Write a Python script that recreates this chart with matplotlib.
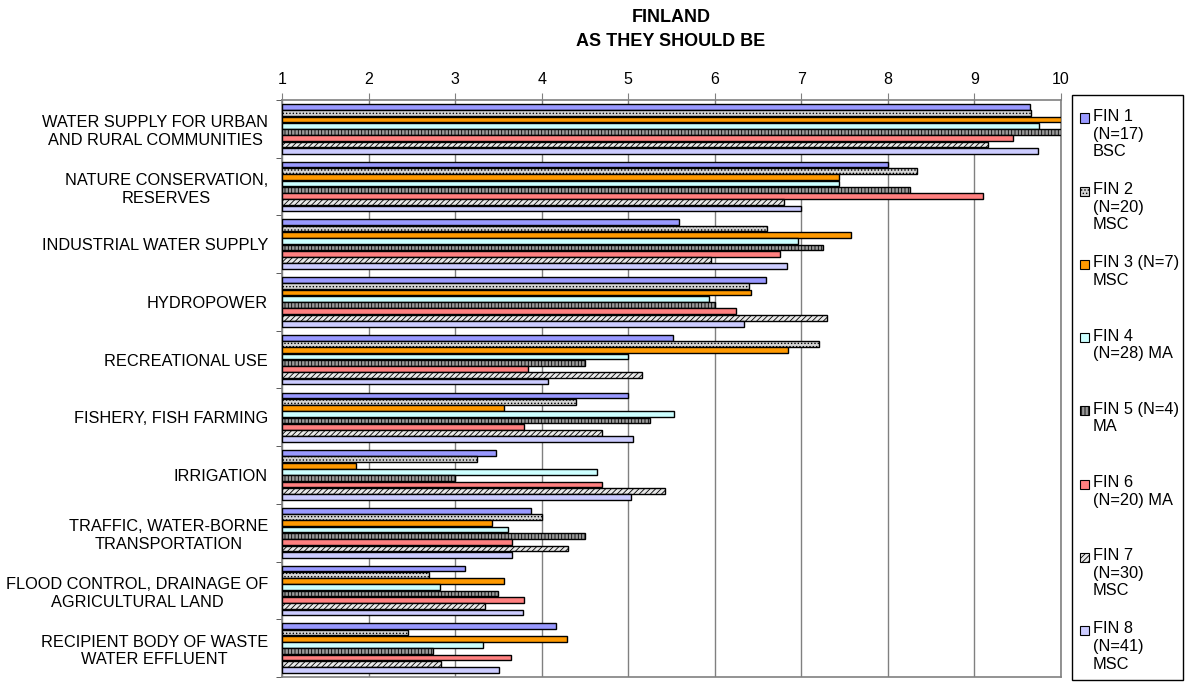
import matplotlib.pyplot as plt
import matplotlib.patches as mpatches
import numpy as np

plt.rcParams['font.family'] = ['Liberation Sans', 'DejaVu Sans']

categories = [
    'WATER SUPPLY FOR URBAN\nAND RURAL COMMUNITIES',
    'NATURE CONSERVATION,\nRESERVES',
    'INDUSTRIAL WATER SUPPLY',
    'HYDROPOWER',
    'RECREATIONAL USE',
    'FISHERY, FISH FARMING',
    'IRRIGATION',
    'TRAFFIC, WATER-BORNE\nTRANSPORTATION',
    'FLOOD CONTROL, DRAINAGE OF\nAGRICULTURAL LAND',
    'RECIPIENT BODY OF WASTE\nWATER EFFLUENT',
]

series_labels = [
    'FIN 1\n(N=17)\nBSC',
    'FIN 2\n(N=20)\nMSC',
    'FIN 3 (N=7)\nMSC',
    'FIN 4\n(N=28) MA',
    'FIN 5 (N=4)\nMA',
    'FIN 6\n(N=20) MA',
    'FIN 7\n(N=30)\nMSC',
    'FIN 8\n(N=41)\nMSC',
]

fin1 = [9.64, 8.00, 5.59, 6.59, 5.52, 5.00, 3.47, 3.88, 3.12, 4.17]
fin2 = [9.65, 8.34, 6.60, 6.39, 7.20, 4.40, 3.25, 4.00, 2.70, 2.45]
fin3 = [10.0, 7.43, 7.57, 6.42, 6.85, 3.57, 1.86, 3.43, 3.57, 4.29]
fin4 = [9.75, 7.43, 6.96, 5.93, 5.00, 5.53, 4.64, 3.61, 2.83, 3.32]
fin5 = [10.0, 8.25, 7.25, 6.00, 4.50, 5.25, 3.00, 4.50, 3.50, 2.75]
fin6 = [9.45, 9.10, 6.75, 6.25, 3.84, 3.80, 4.70, 3.66, 3.80, 3.65]
fin7 = [9.16, 6.80, 5.96, 7.30, 5.16, 4.70, 5.43, 4.30, 3.34, 2.84]
fin8 = [9.73, 7.00, 6.83, 6.34, 4.07, 5.05, 5.03, 3.66, 3.78, 3.51]

series = [fin1, fin2, fin3, fin4, fin5, fin6, fin7, fin8]

# fill colours and hatches for the 8 series
faces = ['#9999ff', '#d4d4d4', '#ff9900', '#ccffff', '#9a9a9a', '#ff8080', '#e8e8e8', '#ccccff']
hatches = [None, '.....', None, None, '|||||', None, '//////', None]

plt.rcParams['hatch.linewidth'] = 0.6
plt.rcParams['hatch.color'] = '#555555'

fig = plt.figure(figsize=(11.9, 6.84), dpi=100)
ax = fig.add_axes([282 / 1190, 1 - 677 / 684, (1061 - 282) / 1190, (677 - 100) / 684])

n = len(series)
group = 0.87
slot = group / n
y = np.arange(len(categories))
for i, vals in enumerate(series):
    pos = y - group / 2 + slot * (i + 0.5)
    ax.barh(pos, np.array(vals) - 1, left=1, height=slot * 0.92,
            color=faces[i], edgecolor='black', linewidth=1.0,
            hatch=hatches[i], zorder=3)

ax.set_xlim(1, 10)
ax.set_ylim(len(categories) - 0.5, -0.5)
ax.set_xticks(range(1, 11))
ax.xaxis.tick_top()
ax.tick_params(axis='x', direction='out', length=5, color='#808080',
               labelsize=11.5, pad=4)
ax.grid(axis='x', color='#808080', linewidth=1.0, zorder=0)

ax.set_yticks(y)
ax.set_yticklabels(categories, fontsize=11.8, multialignment='center', linespacing=1.22)
ax.tick_params(axis='y', length=0, pad=10)
ax.set_yticks(np.arange(-0.5, len(categories)), minor=True)
ax.tick_params(axis='y', which='minor', length=4, color='#404040')

for s in ax.spines.values():
    s.set_color('#808080')
    s.set_linewidth(1.2)

fig.text(671 / 1190, 1 - 17 / 684, 'FINLAND', ha='center', va='center',
         fontsize=13, fontweight='bold')
fig.text(671 / 1190, 1 - 41 / 684, 'AS THEY SHOULD BE', ha='center', va='center',
         fontsize=13, fontweight='bold')

# legend box drawn by hand so entries sit evenly like the original
fig.patches.append(mpatches.Rectangle((1072 / 1190, 1 - 680 / 684), 111 / 1190, 585 / 684,
                                      transform=fig.transFigure, facecolor='white',
                                      edgecolor='black', linewidth=1.0))
for i, lab in enumerate(series_labels):
    yc = 118 + i * 73.2
    fig.patches.append(mpatches.Rectangle((1080 / 1190, 1 - (yc + 4.5) / 684), 9 / 1190, 9 / 684,
                                          transform=fig.transFigure, facecolor=faces[i],
                                          edgecolor='black', linewidth=0.8,
                                          hatch=hatches[i]))
    fig.text(1093 / 1190, 1 - (yc - 9) / 684, lab, ha='left', va='top',
             fontsize=11.8, linespacing=1.22)

fig.savefig('out.png', dpi=100)
